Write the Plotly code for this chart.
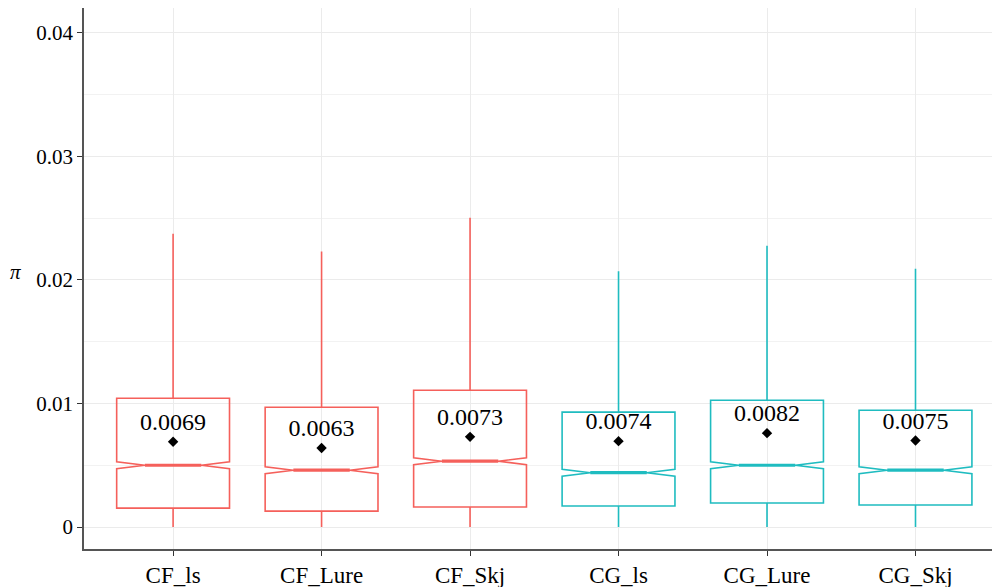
import plotly.graph_objects as go

categories = ["CF_ls", "CF_Lure", "CF_Skj", "CG_ls", "CG_Lure", "CG_Skj"]
q1 = [0.00153, 0.00129, 0.00162, 0.00170, 0.00194, 0.00178]
median = [0.00500, 0.00460, 0.00533, 0.00440, 0.00500, 0.00460]
q3 = [0.01042, 0.00970, 0.01107, 0.00930, 0.01026, 0.00945]
lower = [0.0, 0.0, 0.0, 0.0, 0.0, 0.0]
upper = [0.02375, 0.02230, 0.02504, 0.02070, 0.02278, 0.02090]
means = [0.00690, 0.00640, 0.00730, 0.00695, 0.00760, 0.00700]
mean_labels = ["0.0069", "0.0063", "0.0073", "0.0074", "0.0082", "0.0075"]
groups = ["CF", "CF", "CF", "CG", "CG", "CG"]
group_colors = {"CF": "#F5605B", "CG": "#1FBCC0"}

SERIF = "'Liberation Serif', 'Times New Roman', Times, serif"
BOX_W = 0.76
NOTCH_W = 0.25

fig = go.Figure()
for i, c in enumerate(categories):
    col = group_colors[groups[i]]
    fig.add_trace(go.Box(
        x=[c], q1=[q1[i]], median=[median[i]], q3=[q3[i]],
        lowerfence=[lower[i]], upperfence=[upper[i]],
        notched=True, notchspan=[0.00028], notchwidth=NOTCH_W,
        width=BOX_W, whiskerwidth=0,
        line=dict(color=col, width=1.6),
        fillcolor="rgba(255,255,255,0)",
        boxpoints=False, showlegend=False, hoverinfo="skip",
    ))
    half = BOX_W / 2 * (1 - 2 * NOTCH_W)
    fig.add_shape(type="line", xref="x", yref="y",
                  x0=i - half, x1=i + half, y0=median[i], y1=median[i],
                  line=dict(color=col, width=3.2))

fig.add_trace(go.Scatter(
    x=categories, y=means, mode="markers+text",
    text=mean_labels, textposition="top center",
    textfont=dict(family=SERIF, size=24, color="black"),
    marker=dict(symbol="diamond", size=8, color="black"),
    showlegend=False, hoverinfo="skip",
))

L, T, B = 76, 0, 46
PW, PH = 1000 - L, 587 - T - B

fig.add_annotation(
    x=(15 - 8 - L) / PW, y=(587 - B - (272 - 8)) / PH,
    xref="paper", yref="paper", text="<i>π</i>", showarrow=False,
    xanchor="center", yanchor="middle",
    font=dict(family=SERIF, size=21, color="black"),
)

fig.update_layout(
    width=1000, height=587,
    margin=dict(l=L, r=0, t=T, b=B, autoexpand=False),
    paper_bgcolor="white", plot_bgcolor="white",
    font=dict(family=SERIF, size=21, color="black"),
    xaxis=dict(
        type="category", range=[-0.6, 5.623],
        showgrid=True, gridcolor="#EBEBEB", gridwidth=1.2,
        showline=True, linecolor="#555555", linewidth=1.5, mirror=True,
        ticks="outside", ticklen=5, tickcolor="#333333",
        tickfont=dict(family=SERIF, size=23, color="black"),
        zeroline=False, automargin=False,
    ),
    yaxis=dict(
        range=[-0.00178, 0.04202],
        tickvals=[0, 0.01, 0.02, 0.03, 0.04],
        ticktext=["0", "0.01", "0.02", "0.03", "0.04"],
        showgrid=True, gridcolor="#EBEBEB", gridwidth=1.2,
        minor=dict(tickvals=[0.005, 0.015, 0.025, 0.035], showgrid=True,
                   gridcolor="#F2F2F2", gridwidth=0.8, ticks=""),
        showline=True, linecolor="#555555", linewidth=1.5,
        ticks="outside", ticklen=5, tickcolor="#333333",
        tickfont=dict(family=SERIF, size=21, color="black"),
        zeroline=False, automargin=False,
    ),
)

fig.write_html("out.html")
